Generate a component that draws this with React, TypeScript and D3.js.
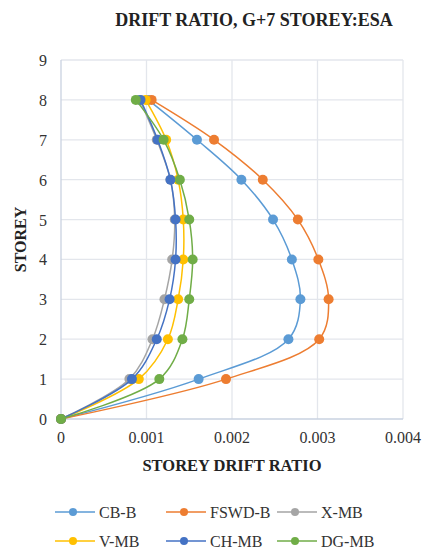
import { useEffect, useRef } from 'react'
import * as d3 from 'd3'

const storeys = [0, 1, 2, 3, 4, 5, 6, 7, 8]
const cbB = [0, 0.00161, 0.00266, 0.0028, 0.0027, 0.00248, 0.00211, 0.00159, 0.00102]
const fswdB = [0, 0.00193, 0.00302, 0.00313, 0.00301, 0.00277, 0.00236, 0.00179, 0.00106]
const xMB = [0, 0.0008, 0.00107, 0.00121, 0.0013, 0.00133, 0.00128, 0.00112, 0.00092]
const vMB = [0, 0.00091, 0.00125, 0.00137, 0.00143, 0.00143, 0.00137, 0.00123, 0.00099]
const chMB = [0, 0.00083, 0.00112, 0.00127, 0.00134, 0.00134, 0.00128, 0.00113, 0.00093]
const dgMB = [0, 0.00115, 0.00142, 0.0015, 0.00154, 0.0015, 0.00139, 0.0012, 0.000875]

const seriesNames = ['CB-B', 'FSWD-B', 'X-MB', 'V-MB', 'CH-MB', 'DG-MB']
const seriesValues = [cbB, fswdB, xMB, vMB, chMB, dgMB]
const colors = ['#5B9BD5', '#ED7D31', '#A5A5A5', '#FFC000', '#4472C4', '#70AD47']
const xTicks = [0, 0.001, 0.002, 0.003, 0.004]
const yTicks = [0, 1, 2, 3, 4, 5, 6, 7, 8, 9]

const App = () => {
  const ref = useRef<SVGSVGElement>(null)

  useEffect(() => {
    const svg = d3.select(ref.current)
    svg.selectAll('*').remove()
    const font = 'Liberation Serif, Times New Roman, serif'

    const x = d3.scaleLinear().domain([0, 0.004]).range([61, 403])
    const y = d3.scaleLinear().domain([0, 9]).range([419, 60])

    svg.append('text')
      .attr('x', 254).attr('y', 26)
      .attr('text-anchor', 'middle')
      .attr('font-family', font).attr('font-weight', 'bold').attr('font-size', 18)
      .attr('fill', '#222')
      .text('DRIFT RATIO, G+7 STOREY:ESA')

    // grid
    const grid = svg.append('g').attr('stroke', '#E3E6EC').attr('stroke-width', 1.3)
    grid.selectAll('line.h').data(yTicks.slice(1)).enter().append('line')
      .attr('x1', x(0)).attr('x2', x(0.004))
      .attr('y1', (d) => y(d)).attr('y2', (d) => y(d))
    grid.selectAll('line.v').data(xTicks.slice(1)).enter().append('line')
      .attr('x1', (d) => x(d)).attr('x2', (d) => x(d))
      .attr('y1', y(0)).attr('y2', y(9))

    // axis lines
    svg.append('line').attr('x1', x(0)).attr('x2', x(0)).attr('y1', y(0)).attr('y2', y(9))
      .attr('stroke', '#C9D2E0').attr('stroke-width', 1.3)
    svg.append('line').attr('x1', x(0)).attr('x2', x(0.004)).attr('y1', y(0)).attr('y2', y(0))
      .attr('stroke', '#C9D2E0').attr('stroke-width', 1.3)

    // tick labels
    svg.append('g').selectAll('text').data(xTicks).enter().append('text')
      .attr('x', (d) => x(d)).attr('y', 443)
      .attr('text-anchor', 'middle')
      .attr('font-family', font).attr('font-size', 16).attr('fill', '#333')
      .text((d) => (d === 0 ? '0' : d3.format('.3f')(d)))
    svg.append('g').selectAll('text').data(yTicks).enter().append('text')
      .attr('x', 47).attr('y', (d) => y(d) + 6)
      .attr('text-anchor', 'end')
      .attr('font-family', font).attr('font-size', 16).attr('fill', '#333')
      .text((d) => d)

    svg.append('text')
      .attr('x', 232).attr('y', 471)
      .attr('text-anchor', 'middle')
      .attr('font-family', font).attr('font-weight', 'bold').attr('font-size', 16.5)
      .attr('fill', '#222')
      .text('STOREY DRIFT RATIO')
    svg.append('text')
      .attr('transform', `translate(26, ${y(4.5)}) rotate(-90)`)
      .attr('text-anchor', 'middle')
      .attr('font-family', font).attr('font-weight', 'bold').attr('font-size', 16)
      .attr('fill', '#222')
      .text('STOREY')

    const line = d3.line<number>()
      .x((d) => x(d))
      .y((d, i) => y(storeys[i]))
      .curve(d3.curveCatmullRom.alpha(0.5))

    seriesValues.forEach((vals, k) => {
      const g = svg.append('g')
      g.append('path')
        .attr('d', line(vals))
        .attr('fill', 'none')
        .attr('stroke', colors[k])
        .attr('stroke-width', 1.5)
      g.selectAll('circle').data(vals).enter().append('circle')
        .attr('cx', (d) => x(d))
        .attr('cy', (d, i) => y(storeys[i]))
        .attr('r', 5)
        .attr('fill', colors[k])
    })

    // legend
    const legend = svg.append('g')
    seriesNames.forEach((name, k) => {
      const col = k % 3
      const row = Math.floor(k / 3)
      const lx = 55 + col * 111
      const ly = 512 + row * 29
      legend.append('line')
        .attr('x1', lx).attr('x2', lx + 40).attr('y1', ly).attr('y2', ly)
        .attr('stroke', colors[k]).attr('stroke-width', 1.5)
      legend.append('circle')
        .attr('cx', lx + 18).attr('cy', ly).attr('r', 4)
        .attr('fill', colors[k])
      legend.append('text')
        .attr('x', lx + 44).attr('y', ly + 5.5)
        .attr('font-family', font).attr('font-size', 16).attr('fill', '#333')
        .text(name)
    })
  }, [])

  return (
    <svg
      ref={ref}
      width={427}
      height={552}
      style={{ position: 'absolute', left: 0, top: 0, background: '#fff' }}
    />
  )
}

export default App
